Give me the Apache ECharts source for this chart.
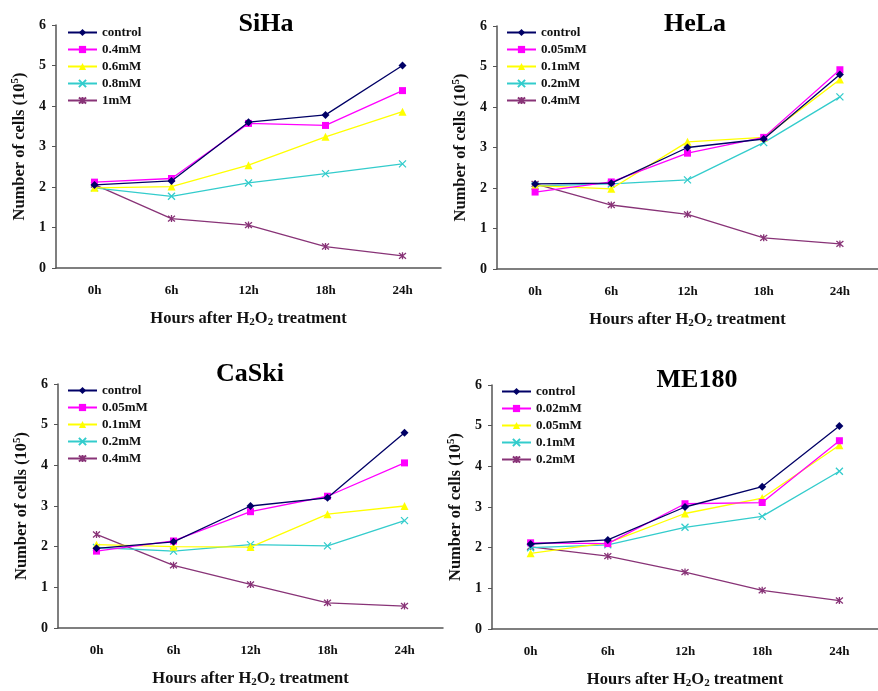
<!DOCTYPE html>
<html>
<head>
<meta charset="utf-8">
<script src="https://cdn.jsdelivr.net/npm/echarts@6/dist/echarts.min.js"></script>
<style>
  html, body { margin: 0; padding: 0; background: #fff; }
  #chart { width: 878px; height: 691px; }
</style>
</head>
<body>
<div id="chart"></div>
<script>
// x categories shared by all four panels
const hours = ['0h', '6h', '12h', '18h', '24h'];

// SiHa
const sihaLabels = ['control', '0.4mM', '0.6mM', '0.8mM', '1mM'];
const sihaControl = [2.05, 2.15, 3.6, 3.78, 5.0];
const siha04 = [2.12, 2.21, 3.57, 3.52, 4.38];
const siha06 = [1.98, 2.01, 2.54, 3.24, 3.86];
const siha08 = [1.98, 1.77, 2.1, 2.33, 2.57];
const siha1 = [2.06, 1.22, 1.06, 0.53, 0.3];

// HeLa
const helaLabels = ['control', '0.05mM', '0.1mM', '0.2mM', '0.4mM'];
const helaControl = [2.1, 2.12, 3.0, 3.21, 4.8];
const hela005 = [1.9, 2.15, 2.86, 3.25, 4.92];
const hela01 = [2.06, 1.98, 3.14, 3.25, 4.68];
const hela02 = [2.05, 2.1, 2.2, 3.12, 4.25];
const hela04 = [2.1, 1.58, 1.35, 0.77, 0.62];

// CaSki
const caskiLabels = ['control', '0.05mM', '0.1mM', '0.2mM', '0.4mM'];
const caskiControl = [1.96, 2.12, 3.0, 3.2, 4.8];
const caski005 = [1.89, 2.14, 2.86, 3.24, 4.06];
const caski01 = [2.05, 2.0, 1.99, 2.8, 3.0];
const caski02 = [1.98, 1.89, 2.05, 2.02, 2.64];
const caski04 = [2.3, 1.54, 1.07, 0.62, 0.54];

// ME180
const meLabels = ['control', '0.02mM', '0.05mM', '0.1mM', '0.2mM'];
const meControl = [2.09, 2.19, 3.0, 3.5, 4.99];
const me002 = [2.12, 2.1, 3.08, 3.11, 4.63];
const me005 = [1.86, 2.12, 2.84, 3.22, 4.52];
const me01 = [2.0, 2.07, 2.5, 2.77, 3.88];
const me02 = [2.02, 1.79, 1.4, 0.95, 0.7];

const yTickMax = 6;

const FONT = '"Liberation Serif", "Times New Roman", serif';
const colors = ['#000066', '#ff00ff', '#ffff00', '#33cccc', '#883377'];
const crossPath = 'path://M0,0L10,10M10,0L0,10';
const starPath = 'path://M0,0L10,10M10,0L0,10M5,-1L5,11';
const symbols = ['diamond', 'rect', 'triangle', crossPath, starPath];
const symbolSizes = [8, 7, 8, 7, 7];

const panels = [
    {title: 'SiHa', labels: sihaLabels, values: [sihaControl, siha04, siha06, siha08, siha1],
        grid: {left: 56, top: 25, width: 385, height: 243}, titleX: 261, titleY: 6, legend: {left: 67, top: 26}},
    {title: 'HeLa', labels: helaLabels, values: [helaControl, hela005, hela01, hela02, hela04],
        grid: {left: 497, top: 26, width: 386, height: 243}, titleX: 690, titleY: 6, legend: {left: 506, top: 26}},
    {title: 'CaSki', labels: caskiLabels, values: [caskiControl, caski005, caski01, caski02, caski04],
        grid: {left: 58, top: 384, width: 385, height: 244}, titleX: 245, titleY: 356, legend: {left: 67, top: 384}},
    {title: 'ME180', labels: meLabels, values: [meControl, me002, me005, me01, me02],
        grid: {left: 492, top: 385, width: 386, height: 244}, titleX: 692, titleY: 362, legend: {left: 501, top: 385}}
];

const chart = echarts.init(document.getElementById('chart'));

const option = {
    backgroundColor: '#fff',
    animation: false,
    title: [],
    grid: [],
    xAxis: [],
    yAxis: [],
    legend: [],
    series: []
};

panels.forEach((p, i) => {
    option.title.push({
        text: p.title,
        left: p.titleX,
        top: p.titleY,
        textAlign: 'center',
        textStyle: {fontFamily: FONT, fontSize: 26, fontWeight: 'bold', color: '#000'}
    });
    option.grid.push(Object.assign({containLabel: false}, p.grid));
    option.xAxis.push({
        type: 'category',
        gridIndex: i,
        data: hours,
        boundaryGap: true,
        name: 'Hours after H{sub|2}O{sub|2} treatment',
        nameLocation: 'middle',
        nameGap: 41,
        nameTextStyle: {
            fontFamily: FONT, fontSize: 16.5, fontWeight: 'bold', color: '#111', lineHeight: 19,
            rich: {sub: {fontFamily: FONT, fontSize: 11, fontWeight: 'bold', lineHeight: 10, verticalAlign: 'bottom', color: '#111'}}
        },
        axisLine: {lineStyle: {color: '#555', width: 1.5}},
        axisTick: {inside: true, length: 4, lineStyle: {color: '#555'}},
        axisLabel: {margin: 16, fontFamily: FONT, fontSize: 13, fontWeight: 'bold', color: '#111'},
        splitLine: {show: false}
    });
    option.yAxis.push({
        type: 'value',
        gridIndex: i,
        min: 0,
        max: yTickMax,
        interval: 1,
        name: 'Number of cells (10{sup|5})',
        nameLocation: 'middle',
        nameGap: 27,
        nameTextStyle: {
            fontFamily: FONT, fontSize: 16.5, fontWeight: 'bold', color: '#111', lineHeight: 19,
            rich: {sup: {fontFamily: FONT, fontSize: 11, fontWeight: 'bold', lineHeight: 10, verticalAlign: 'top', color: '#111'}}
        },
        axisLine: {show: true, lineStyle: {color: '#555', width: 1.5}},
        axisTick: {show: true, inside: false, length: 4, lineStyle: {color: '#555'}},
        axisLabel: {margin: 10, fontFamily: FONT, fontSize: 14, fontWeight: 'bold', color: '#111'},
        splitLine: {show: false}
    });
    const names = p.labels.map(l => p.title + '|' + l);
    option.legend.push({
        data: names,
        orient: 'vertical',
        left: p.legend.left,
        top: p.legend.top,
        itemWidth: 29,
        itemHeight: 9,
        itemGap: 4,
        padding: 0,
        formatter: n => n.split('|')[1],
        textStyle: {fontFamily: FONT, fontSize: 13, fontWeight: 'bold', color: '#111', lineHeight: 12}
    });
    p.values.forEach((vals, k) => {
        const strokeOnly = k >= 3;
        option.series.push({
            name: names[k],
            type: 'line',
            xAxisIndex: i,
            yAxisIndex: i,
            data: vals,
            symbol: symbols[k],
            symbolSize: symbolSizes[k],
            lineStyle: {color: colors[k], width: 1.3},
            itemStyle: strokeOnly
                ? {color: colors[k], borderColor: colors[k], borderWidth: 1.3}
                : {color: colors[k]},
            z: 10 - k
        });
    });
});

chart.setOption(option);
</script>
</body>
</html>
